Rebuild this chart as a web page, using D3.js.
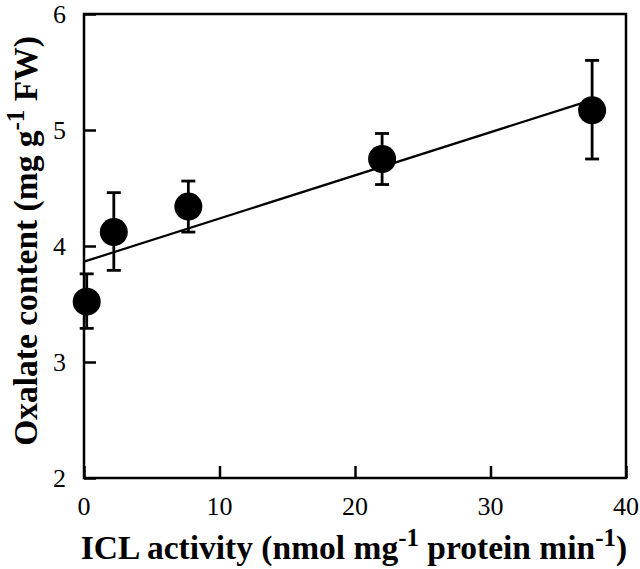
<!DOCTYPE html>
<html>
<head>
<meta charset="utf-8">
<script src="https://cdn.jsdelivr.net/npm/d3@7"></script>
<style>
  body { margin: 0; background: #fff; }
  svg text { font-family: "Liberation Serif", "Times New Roman", serif; fill: #000; }
</style>
</head>
<body>
<svg id="chart" width="640" height="569"></svg>
<script>
// data
const icl = [0.2, 2.2, 7.7, 22.0, 37.5];
const oxalate = [3.52, 4.12, 4.34, 4.75, 5.17];
const errLow = [3.29, 3.79, 4.12, 4.53, 4.75];
const errHigh = [3.76, 4.46, 4.56, 4.97, 5.60];
const fitLine = [[0, 3.865], [37.5, 5.26]];
const xTicks = [0, 10, 20, 30, 40];
const yTicks = [2, 3, 4, 5, 6];

const svg = d3.select("#chart");
const plotLeft = 84, plotRight = 626, plotTop = 14, plotBottom = 478;

const x = d3.scaleLinear().domain([0, 40]).range([plotLeft, plotRight]);
const y = d3.scaleLinear().domain([2, 6]).range([plotBottom, plotTop]);

// inward ticks
svg.append("g")
  .attr("transform", `translate(0,${plotBottom})`)
  .call(d3.axisTop(x).tickValues(xTicks).tickSize(12).tickFormat(""));
svg.append("g")
  .attr("transform", `translate(${plotLeft},0)`)
  .call(d3.axisRight(y).tickValues(yTicks).tickSize(12).tickFormat(""));
svg.selectAll(".domain").remove();
svg.selectAll(".tick line").attr("stroke", "#000").attr("stroke-width", 2.5);

// frame
svg.append("rect")
  .attr("x", plotLeft).attr("y", plotTop)
  .attr("width", plotRight - plotLeft).attr("height", plotBottom - plotTop)
  .attr("fill", "none").attr("stroke", "#000").attr("stroke-width", 2.5);

// tick labels
svg.selectAll(".xl").data(xTicks).enter().append("text")
  .attr("x", d => x(d)).attr("y", 515)
  .attr("text-anchor", "middle").attr("font-size", 26)
  .text(d => d);
svg.selectAll(".yl").data(yTicks).enter().append("text")
  .attr("x", 66).attr("y", d => y(d)).attr("dy", "0.34em")
  .attr("text-anchor", "end").attr("font-size", 26)
  .text(d => d);

// regression line
const line = d3.line().x(d => x(d[0])).y(d => y(d[1]));
svg.append("path").datum(fitLine)
  .attr("d", line).attr("fill", "none")
  .attr("stroke", "#000").attr("stroke-width", 2.2);

// error bars
const pts = icl.map((v, i) => ({ x: v, y: oxalate[i], lo: errLow[i], hi: errHigh[i] }));
const eb = svg.append("g").attr("stroke", "#000").attr("stroke-width", 2.8);
pts.forEach(p => {
  eb.append("line").attr("x1", x(p.x)).attr("x2", x(p.x)).attr("y1", y(p.lo)).attr("y2", y(p.hi));
  eb.append("line").attr("x1", x(p.x) - 7).attr("x2", x(p.x) + 7).attr("y1", y(p.lo)).attr("y2", y(p.lo));
  eb.append("line").attr("x1", x(p.x) - 7).attr("x2", x(p.x) + 7).attr("y1", y(p.hi)).attr("y2", y(p.hi));
});

// points
svg.selectAll("circle").data(pts).enter().append("circle")
  .attr("cx", d => x(d.x)).attr("cy", d => y(d.y))
  .attr("r", 14).attr("fill", "#000");

// axis titles
const xt = svg.append("text")
  .attr("x", 354).attr("y", 559)
  .attr("text-anchor", "middle").attr("font-size", 33.5).attr("font-weight", "bold");
xt.append("tspan").text("ICL activity (nmol mg");
xt.append("tspan").attr("dy", -13).attr("font-size", 25).text("-1");
xt.append("tspan").attr("dy", 13).text(" protein min");
xt.append("tspan").attr("dy", -13).attr("font-size", 25).text("-1");
xt.append("tspan").attr("dy", 13).text(")");

const yt = svg.append("text")
  .attr("transform", "translate(37,241) rotate(-90)")
  .attr("text-anchor", "middle").attr("font-size", 33.5).attr("font-weight", "bold");
yt.append("tspan").text("Oxalate content (mg g");
yt.append("tspan").attr("dy", -13).attr("font-size", 25).text("-1");
yt.append("tspan").attr("dy", 13).text(" FW)");
</script>
</body>
</html>
